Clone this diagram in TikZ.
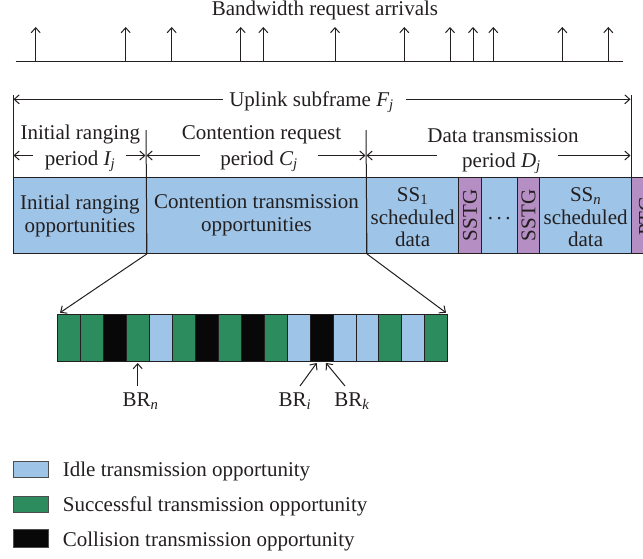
\documentclass[tikz,border=0pt]{standalone}
\usepackage{fontspec}
\setmainfont{Liberation Serif}
\usetikzlibrary{arrows.meta}
\definecolor{idle}{RGB}{158,196,231}
\definecolor{succ}{RGB}{44,140,94}
\definecolor{coll}{RGB}{8,8,8}
\definecolor{gapc}{RGB}{181,142,196}
\definecolor{ink}{RGB}{35,31,32}
\newcommand{\sub}[2]{{\itshape #1}\textsubscript{\itshape #2}}
\begin{document}
\begin{tikzpicture}[x=1pt,y=-1pt,
  every node/.style={font=\fontsize{21}{23}\selectfont, text=ink, inner sep=0pt},
  line/.style={draw=ink, line width=1pt},
  arr/.style={line, -{Straight Barb[length=5pt,width=9pt]}},
  cellbox/.style={draw=ink, line width=0.9pt, anchor=north west, minimum height=76pt, align=center},
  opp/.style={draw=ink, line width=0.9pt, anchor=north west, minimum width=22.94pt, minimum height=46.7pt},
  legbox/.style={draw=ink!80, line width=1pt, anchor=north west, minimum width=35.6pt, minimum height=16pt},
  legtext/.style={anchor=base west},
]
\useasboundingbox (0,0) rectangle (643,558);
\clip (0,0) rectangle (643,558);

% ---- bandwidth request arrivals
\node[anchor=base] (title) at (325,15) {Bandwidth request arrivals};
\coordinate (ax0) at (15.7,61.7);
\coordinate (ax1) at (622.7,61.7);
\draw[line] (ax0) -- (ax1);
\foreach \x [count=\i] in {35.7,125.7,171.7,240.7,263.3,335,404.3,450,473,493.3,562.3,608.3}{
  \coordinate (b\i) at (\x,61.7);
  \coordinate (t\i) at (\x,27);
  \draw[arr] (b\i) -- (t\i);
}

% ---- frame cells
\node[cellbox, fill=idle, minimum width=133pt] (ir) at (13,177) {Initial ranging\\opportunities};
\node[cellbox, fill=idle, minimum width=220pt] (ct) at (146,177) {Contention transmission\\opportunities};
\node[cellbox, fill=idle, minimum width=92.3pt] (s1) at (366,177) {};
\node[cellbox, fill=gapc, minimum width=22.4pt] (g1) at (458.3,177) {};
\node[cellbox, fill=idle, minimum width=36pt] (dt) at (480.7,177) {};
\node[cellbox, fill=gapc, minimum width=22.6pt] (g2) at (516.7,177) {};
\node[cellbox, fill=idle, minimum width=91.7pt] (sn) at (539.3,177) {};
\node[cellbox, fill=gapc, minimum width=40pt] (pt) at (631,177) {};
\node[align=center, font=\fontsize{21}{22.5}\selectfont] (s1t) at ([yshift=-2pt]s1.center) {SS\textsubscript{1}\\scheduled\\data};
\node[align=center, font=\fontsize{21}{22.5}\selectfont] (snt) at ([yshift=-2pt]sn.center) {SS\textsubscript{\itshape n}\\scheduled\\data};
\node[rotate=90] (g1t) at (g1.center) {SSTG};
\node[rotate=90] (g2t) at (g2.center) {SSTG};
\node (dtt) at ([yshift=-3pt]dt.center) {.\,.\,.};
\node[rotate=90] (ptt) at (646,216) {PTG};

% ---- boundary bars
\coordinate (lb) at (13,95);
\coordinate (rb) at (631,95);
\coordinate (rbb) at (631,177);
\coordinate (d1t) at (146,130);
\coordinate (d2t) at (366,130);
\draw[line] (lb) -- (ir.north west);
\draw[line] (rb) -- (rbb);
\draw[line] (d1t) -- (ir.south east);
\draw[line] (d2t) -- (ct.south east);

% ---- uplink subframe
\node[anchor=base] (upl) at (311.5,106.5) {Uplink subframe \sub{F}{j}};
\coordinate (ul0) at (13.5,99.3);
\coordinate (ul1) at (223,99.3);
\coordinate (ur0) at (406,99.3);
\coordinate (ur1) at (630.5,99.3);
\draw[arr] (ul1) -- (ul0);
\draw[arr] (ur0) -- (ur1);

% ---- period headers
\node[anchor=base] (h1a) at (80.3,139) {Initial ranging};
\node[anchor=base] (h1b) at (80,165) {period \sub{I}{j}};
\node[anchor=base] (h2a) at (261.5,139) {Contention request};
\node[anchor=base] (h2b) at (259,165) {period \sub{C}{j}};
\node[anchor=base] (h3a) at (503,142) {Data transmission};
\node[anchor=base] (h3b) at (501.5,167) {period \sub{D}{j}};
\coordinate (p1a) at (13.5,155.5);
\coordinate (p1b) at (33,155.5);
\coordinate (p1c) at (126,155.5);
\coordinate (p1d) at (145.5,155.5);
\coordinate (p2a) at (146.5,155.5);
\coordinate (p2b) at (200,155.5);
\coordinate (p2c) at (318,155.5);
\coordinate (p2d) at (365.5,155.5);
\coordinate (p3a) at (366.5,155.5);
\coordinate (p3b) at (437,155.5);
\coordinate (p3c) at (558,155.5);
\coordinate (p3d) at (630.5,155.5);
\draw[arr] (p1b) -- (p1a);
\draw[arr] (p1c) -- (p1d);
\draw[arr] (p2b) -- (p2a);
\draw[arr] (p2c) -- (p2d);
\draw[arr] (p3b) -- (p3a);
\draw[arr] (p3c) -- (p3d);

% ---- contention opportunities row
\foreach \c [count=\i from 0] in {succ,succ,coll,succ,idle,succ,coll,succ,coll,succ,idle,coll,idle,idle,succ,idle,succ}{
  \node[opp, fill=\c] (o\i) at (57.3+\i*22.94,314.3) {};
}
\coordinate (zl) at (60,312.7);
\coordinate (zr) at (446,312.7);
\draw[arr] (ir.south east) -- (zl);
\draw[arr] (ct.south east) -- (zr);

% ---- BR labels
\node[anchor=base] (brn) at (140.5,406.7) {BR\textsubscript{\itshape n}};
\node[anchor=base] (bri) at (295,406.7) {BR\textsubscript{\itshape i}};
\node[anchor=base] (brk) at (352,406.7) {BR\textsubscript{\itshape k}};
\coordinate (brn0) at (137.7,386);
\coordinate (brn1) at (137.7,363);
\coordinate (bri0) at (300,386);
\coordinate (bri1) at (316.7,363);
\coordinate (brk0) at (345,386);
\coordinate (brk1) at (326,363);
\draw[arr] (brn0) -- (brn1);
\draw[arr] (bri0) -- (bri1);
\draw[arr] (brk0) -- (brk1);

% ---- legend
\node[legbox, fill=idle] (l1) at (12.7,460.7) {};
\node[legbox, fill=succ] (l2) at (12.7,496) {};
\node[legbox, fill=coll, minimum height=17.4pt] (l3) at (12.7,529.3) {};
\node[legtext] (l1t) at (62.7,476.7) {Idle transmission opportunity};
\node[legtext] (l2t) at (62.7,511.7) {Successful transmission opportunity};
\node[legtext] (l3t) at (62.7,546.7) {Collision transmission opportunity};
\end{tikzpicture}
\end{document}
